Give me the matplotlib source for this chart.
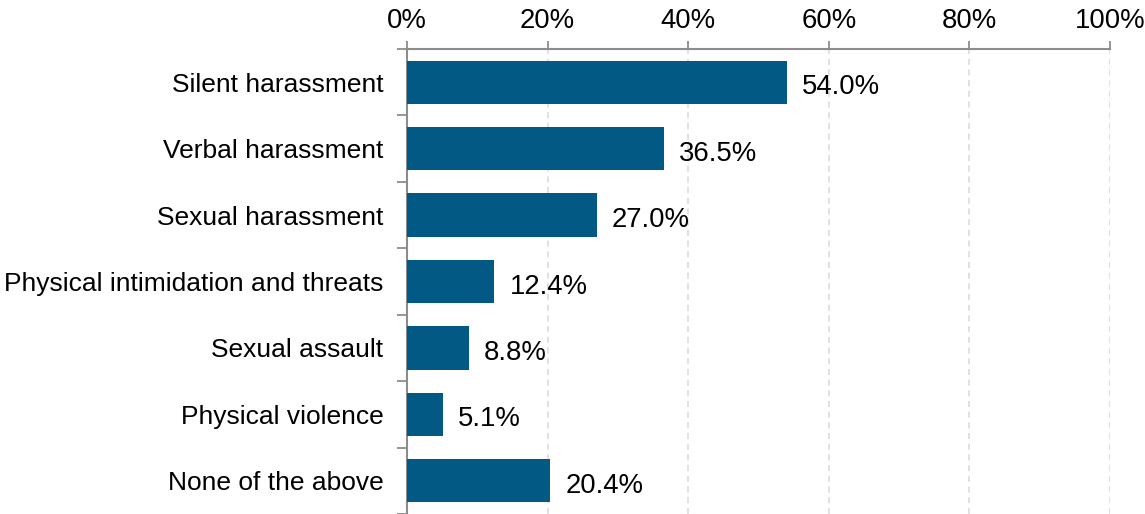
import matplotlib.pyplot as plt
from matplotlib.ticker import FixedLocator, PercentFormatter

plt.rcParams['font.family'] = ['Liberation Sans', 'DejaVu Sans']

categories = [
    'Silent harassment',
    'Verbal harassment',
    'Sexual harassment',
    'Physical intimidation and threats',
    'Sexual assault',
    'Physical violence',
    'None of the above',
]
shares = [54.0, 36.5, 27.0, 12.4, 8.8, 5.1, 20.4]
x_ticks = [0, 20, 40, 60, 80, 100]

bar_color = '#025A84'
axis_grey = '#8C8C8C'

fig = plt.figure(figsize=(11.45, 5.14), dpi=100)
ax = fig.add_axes([0.3555, 0.0, 0.6139, 0.9047])

pos = range(len(categories))
bars = ax.barh(pos, shares, height=0.65, color=bar_color, zorder=3)

for rect, v in zip(bars, shares):
    ax.annotate(f'{v:.1f}%', (rect.get_width(), rect.get_y() + rect.get_height() / 2),
                xytext=(11, -1.5), textcoords='offset points',
                va='center_baseline', ha='left', fontsize=19.8, color='black')

ax.set_xlim(0, 100)
ax.set_ylim(len(categories) - 0.5, -0.5)

# percent scale along the top
ax.xaxis.tick_top()
ax.set_xticks(x_ticks)
ax.xaxis.set_major_formatter(PercentFormatter(decimals=0))
ax.tick_params(axis='x', direction='out', length=6, width=1.3, color=axis_grey,
               labelsize=19.8, pad=5)
ax.grid(axis='x', linestyle=(0, (4, 3)), color='#D9D9D9', linewidth=1.1, zorder=0)

# category names, with ticks on the row boundaries
ax.set_yticks(list(pos))
ax.set_yticklabels(categories)
ax.yaxis.set_minor_locator(FixedLocator([i - 0.5 for i in range(len(categories) + 1)]))
ax.tick_params(axis='y', which='major', length=0, labelsize=19, pad=17)
ax.tick_params(axis='y', which='minor', length=7, width=1.3, color=axis_grey)

for side in ['right', 'bottom']:
    ax.spines[side].set_visible(False)
for side in ['top', 'left']:
    ax.spines[side].set_color(axis_grey)
    ax.spines[side].set_linewidth(1.5)

fig.savefig('out.png', dpi=100)
